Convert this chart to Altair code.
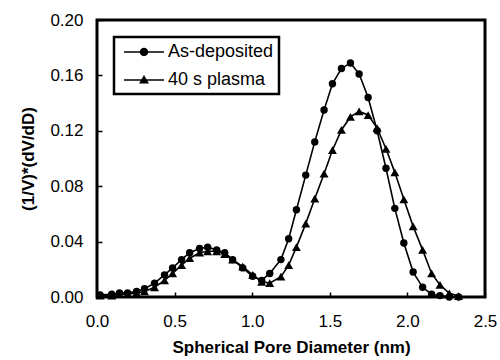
import altair as alt
import pandas as pd

x_vals = [0.02, 0.095, 0.145, 0.197, 0.255, 0.306, 0.371, 0.435, 0.487, 0.545,
          0.597, 0.661, 0.713, 0.771, 0.823, 0.874, 0.939, 1.003, 1.061, 1.113,
          1.185, 1.235, 1.285, 1.345, 1.403, 1.463, 1.517, 1.575, 1.633, 1.689,
          1.747, 1.805, 1.862, 1.919, 1.977, 2.037, 2.098, 2.156, 2.21, 2.27, 2.33]
as_dep = [0.0015, 0.002, 0.003, 0.003, 0.004, 0.006, 0.010, 0.016, 0.021, 0.027,
          0.032, 0.035, 0.036, 0.034, 0.032, 0.027, 0.021, 0.015, 0.012, 0.017,
          0.027, 0.042, 0.063, 0.088, 0.112, 0.135, 0.154, 0.165, 0.169, 0.161,
          0.144, 0.120, 0.093, 0.064, 0.039, 0.018, 0.007, 0.002, 0.001, 0.0, 0.0]
plasma = [0.001, 0.001, 0.002, 0.002, 0.003, 0.004, 0.007, 0.012, 0.017, 0.023,
          0.028, 0.032, 0.033, 0.033, 0.031, 0.027, 0.022, 0.016, 0.011, 0.010,
          0.0147, 0.023, 0.036, 0.053, 0.071, 0.089, 0.106, 0.1206, 0.130, 0.134,
          0.1314, 0.122, 0.107, 0.090, 0.0705, 0.051, 0.034, 0.017, 0.0087, 0.0027, 0.0007]
series_names = ["As-deposited", "40 s plasma"]
x_ticks = [0.0, 0.5, 1.0, 1.5, 2.0, 2.5]
y_ticks = [0.0, 0.04, 0.08, 0.12, 0.16, 0.20]

rows = []
for i, x in enumerate(x_vals):
    rows.append({"x": x, "y": as_dep[i], "series": series_names[0], "order": i})
    rows.append({"x": x, "y": plasma[i], "series": series_names[1], "order": i})
df = pd.DataFrame(rows)

FONT = "Liberation Sans"

xenc = alt.X("x:Q", scale=alt.Scale(domain=[0, 2.5], nice=False),
             axis=alt.Axis(values=x_ticks, format=".1f", title="Spherical Pore Diameter (nm)",
                           offset=-5, tickSize=5, labelPadding=16, domain=False, grid=False,
                           labelFlush=False, titlePadding=10))
yenc = alt.Y("y:Q", scale=alt.Scale(domain=[0, 0.2], nice=False),
             axis=alt.Axis(values=y_ticks, format=".2f", title="(1/V)*(dV/dD)",
                           offset=-5, tickSize=5, labelPadding=14, domain=False, grid=False,
                           labelFlush=False, titlePadding=12))

lines = alt.Chart(df).mark_line(color="black", strokeWidth=1.6).encode(
    x=xenc, y=yenc, detail="series:N", order="order:Q")

points = alt.Chart(df).mark_point(filled=True, color="black", opacity=1).encode(
    x=xenc, y=yenc,
    shape=alt.Shape("series:N", scale=alt.Scale(domain=series_names, range=["circle", "triangle-up"]),
                    legend=None),
    size=alt.Size("series:N", scale=alt.Scale(domain=series_names, range=[55, 80]), legend=None))

circ_path = ("M-2,-0.08L2,-0.08L2,0.08L-2,0.08Z"
             "M0.42,0A0.42,0.42,0,1,1,-0.42,0A0.42,0.42,0,1,1,0.42,0Z")
tri_path = ("M-2,-0.08L2,-0.08L2,0.08L-2,0.08Z"
            "M0,-0.5L0.5,0.35L-0.5,0.35Z")

legend_layer = alt.Chart(df).mark_point(filled=True, color="black", opacity=0).encode(
    x=xenc, y=yenc,
    shape=alt.Shape("series:N", scale=alt.Scale(domain=series_names, range=[circ_path, tri_path]),
                    legend=alt.Legend(title=None, orient="none", legendX=17, legendY=17,
                                      strokeColor="black", padding=5,
                                      symbolSize=400, symbolFillColor="black",
                                      symbolStrokeColor="black", symbolStrokeWidth=0,
                                      symbolOpacity=1, symbolOffset=15, labelOffset=14,
                                      rowPadding=9,
                                      labelFontSize=18, labelFont=FONT, labelColor="black")))

chart = alt.layer(lines, points, legend_layer).resolve_scale(shape="independent").properties(
    width=388, height=277,
    background="white",
    autosize=alt.AutoSizeParams(type="none"),
    padding={"left": 97, "top": 20, "right": 15, "bottom": 63},
).configure_view(stroke="black", strokeWidth=3).configure_axis(
    labelFont=FONT, labelFontSize=17, labelColor="black", tickColor="black", tickWidth=1.5,
    titleFont=FONT, titleFontSize=17, titleFontWeight="bold", titleColor="black",
).configure_legend(strokeWidth=2.5, strokeColor="black")

chart.save("out.html", embed_options={"renderer": "svg", "actions": False})
